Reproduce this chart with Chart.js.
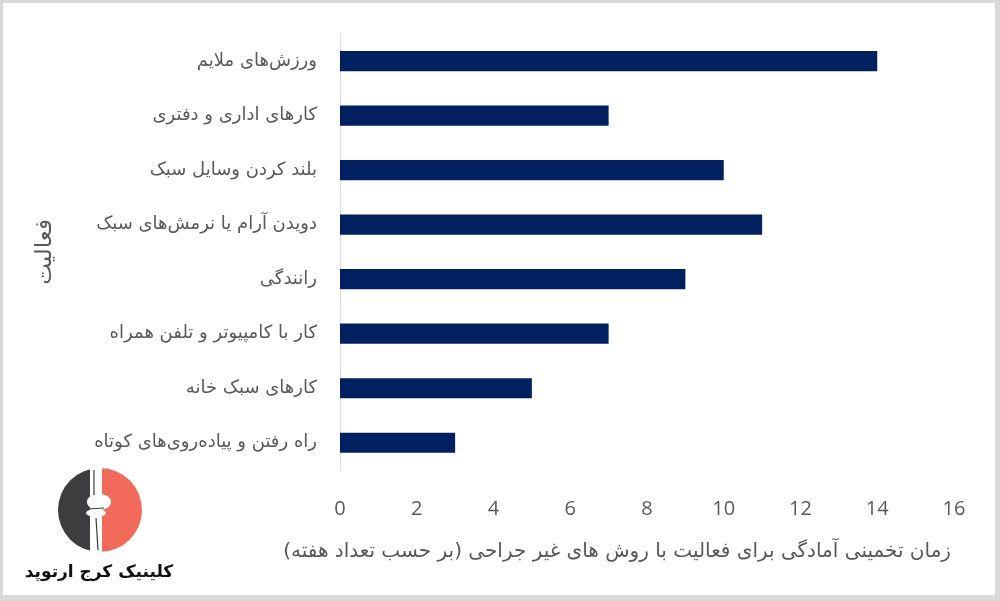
<!DOCTYPE html>
<html lang="fa">
<head>
<meta charset="utf-8">
<script src="https://cdn.jsdelivr.net/npm/chart.js@4.4.1/dist/chart.umd.min.js"></script>
<style>
  html, body { margin: 0; padding: 0; background: #fff; }
  #contenedor { position: relative; width: 1000px; height: 601px; }
</style>
</head>
<body>
<div id="contenedor"><canvas id="grafico" dir="rtl"></canvas></div>
<script>
// datos
const actividades = [
  "ورزش‌های ملایم",
  "کارهای اداری و دفتری",
  "بلند کردن وسایل سبک",
  "دویدن آرام یا نرمش‌های سبک",
  "رانندگی",
  "کار با کامپیوتر و تلفن همراه",
  "کارهای سبک خانه",
  "راه رفتن و پیاده‌روی‌های کوتاه",
];
const semanas = [14, 7, 10, 11, 9, 7, 5, 3];
const ticksX = [0, 2, 4, 6, 8, 10, 12, 14, 16];
const tituloX = "زمان تخمینی آمادگی برای فعالیت با روش های غیر جراحی (بر حسب تعداد هفته)";
const tituloY = "فعالیت";
const textoLogo = "کلینیک کرج ارتوپد";

const GRIS = "#595959";
const FUENTE_FA = "'DejaVu Sans', sans-serif";

// fondo blanco, marco gris, título del eje X y logo de la clínica
const decoracion = {
  id: "decoracion",
  beforeDraw(chart) {
    const ctx = chart.ctx;
    ctx.save();
    ctx.fillStyle = "#fff";
    ctx.fillRect(0, 0, chart.width, chart.height);
    ctx.restore();
  },
  afterDraw(chart) {
    const ctx = chart.ctx;
    const w = chart.width, h = chart.height;
    ctx.save();
    // marco
    ctx.fillStyle = "#d9d9d9";
    ctx.fillRect(0, 0, w, 3);
    ctx.fillRect(0, 0, 3, h);
    ctx.fillRect(0, h - 6, w, 6);
    ctx.fillRect(w - 5, 0, 5, h);

    // título del eje X (más ancho que el área del gráfico, por eso va acá)
    ctx.fillStyle = GRIS;
    ctx.font = "20px " + FUENTE_FA;
    ctx.textAlign = "right";
    ctx.textBaseline = "middle";
    ctx.fillText(tituloX, chart.chartArea.right - 3, 552);

    // logo: círculo mitad gris, mitad salmón
    const cx = 100, cy = 510, r = 42;
    ctx.fillStyle = "#3d3d3f";
    ctx.beginPath();
    ctx.arc(cx, cy, r, Math.PI / 2, Math.PI * 1.5);
    ctx.closePath();
    ctx.fill();
    ctx.fillStyle = "#f26a5a";
    ctx.beginPath();
    ctx.arc(cx, cy, r, -Math.PI / 2, Math.PI / 2);
    ctx.closePath();
    ctx.fill();
    // hueso (rodilla) en blanco
    ctx.fillStyle = "#fff";
    ctx.fillRect(cx - 10, cy - r - 1, 12, 2 * r + 2);
    ctx.beginPath();
    ctx.ellipse(cx - 1, cy - 8, 12, 8, 0, 0, Math.PI * 2);
    ctx.fill();
    ctx.beginPath();
    ctx.ellipse(cx - 4, cy + 3, 10, 4, 0, 0, Math.PI * 2);
    ctx.fill();
    // contornos finos del hueso
    ctx.strokeStyle = "#3d3d3f";
    ctx.lineWidth = 1.2;
    ctx.beginPath();
    ctx.moveTo(cx - 6, cy - r + 2);
    ctx.lineTo(cx - 6, cy - 15);
    ctx.moveTo(cx - 12, cy - 1);
    ctx.lineTo(cx + 4, cy - 2);
    ctx.moveTo(cx - 4, cy + 8);
    ctx.lineTo(cx - 2, cy + r - 2);
    ctx.stroke();

    ctx.fillStyle = "#111";
    ctx.font = "bold 17px " + FUENTE_FA;
    ctx.textAlign = "center";
    ctx.fillText(textoLogo, 99, 573);
    ctx.restore();
  },
};

new Chart(document.getElementById("grafico"), {
  type: "bar",
  data: {
    labels: actividades,
    datasets: [
      {
        data: semanas,
        backgroundColor: "#002060",
        borderWidth: 0,
        categoryPercentage: 1,
        barPercentage: 0.37,
      },
    ],
  },
  options: {
    indexAxis: "y",
    responsive: true,
    maintainAspectRatio: false,
    animation: false,
    layout: { padding: { top: 28, right: 46, left: 0, bottom: 0 } },
    plugins: { legend: { display: false }, tooltip: { enabled: false } },
    scales: {
      x: {
        min: 0,
        max: 16,
        afterBuildTicks: (escala) => {
          escala.ticks = ticksX.map((v) => ({ value: v }));
        },
        afterFit: (escala) => {
          escala.height = 131;
        },
        grid: { display: false },
        border: { display: false },
        ticks: {
          color: GRIS,
          padding: 19,
          font: { family: "'Open Sans', sans-serif", size: 20 },
        },
      },
      y: {
        afterFit: (escala) => {
          escala.width = 340;
        },
        grid: { display: false, drawTicks: false },
        border: { display: true, color: "#d9d9d9", width: 1 },
        ticks: {
          color: GRIS,
          padding: 23,
          font: { family: FUENTE_FA, size: 18 },
        },
        title: {
          display: true,
          text: tituloY,
          color: GRIS,
          font: { family: FUENTE_FA, size: 23 },
          padding: { top: 31 },
        },
      },
    },
  },
  plugins: [decoracion],
});
</script>
</body>
</html>
